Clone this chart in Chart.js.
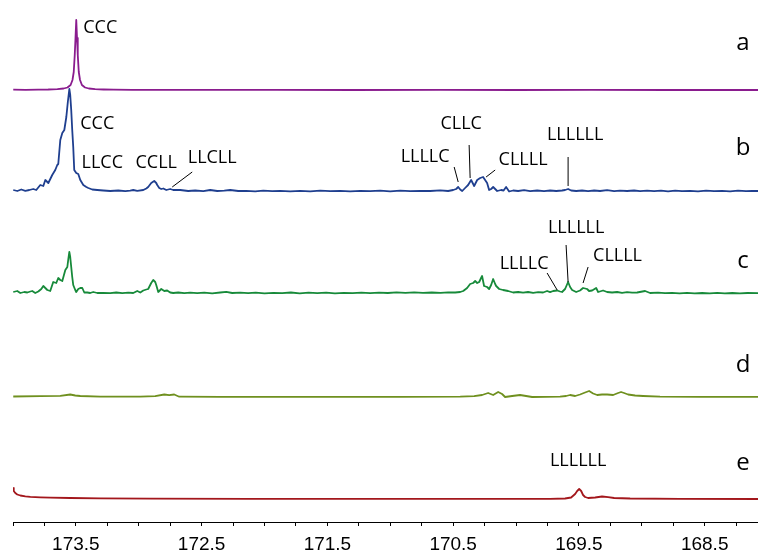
<!DOCTYPE html>
<html>
<head>
<meta charset="utf-8">
<script src="https://cdn.jsdelivr.net/npm/chart.js@4.4.1/dist/chart.umd.min.js"></script>
<style>
  html, body { margin: 0; padding: 0; background: #fff; }
  #wrap { width: 758px; height: 555px; }
</style>
</head>
<body>
<div id="wrap"><canvas id="nmr"></canvas></div>
<script>
// 13C carbonyl region, ppm (x) and intensity (y) per trace
var traceNames = ['a', 'b', 'c', 'd', 'e'];

var ppmA = [173.998, 173.9, 173.8, 173.72, 173.647, 173.597, 173.567, 173.542, 173.527, 173.517, 173.509, 173.503, 173.497, 173.491, 173.485, 173.477, 173.467, 173.452, 173.427, 173.397, 173.347, 173.28, 173.2, 173.05, 172.8, 172.4, 171.9, 171.3, 170.6, 170.0, 169.4, 168.8, 168.076];
var intA = [0.3, 0.2, 0.4, 0.5, 0.8, 1.5, 2.5, 5, 10, 18, 35, 52, 70, 52, 35, 18, 10, 5, 2.5, 1.5, 0.8, 0.5, 0.3, 0.2, 0.2, 0.1, 0.1, 0, 0.1, 0, 0.1, 0, 0];

var ppmB = [173.998, 173.966, 173.934, 173.902, 173.870, 173.839, 173.815, 173.783, 173.759, 173.743, 173.719, 173.688, 173.664, 173.648, 173.640, 173.624, 173.608, 173.592, 173.576, 173.564, 173.552, 173.545, 173.537, 173.529, 173.521, 173.513, 173.497, 173.481, 173.465, 173.441, 173.417, 173.401, 173.370, 173.330, 173.282, 173.227, 173.163, 173.107, 173.068, 173.044, 173.012, 172.964, 172.940, 172.925, 172.901, 172.877, 172.861, 172.853, 172.837, 172.821, 172.805, 172.781, 172.750, 172.726, 172.670, 172.607, 172.551, 172.487, 172.432, 172.376, 172.320, 172.273, 172.209, 172.146, 172.074, 172.010, 171.939, 171.875, 171.796, 171.716, 171.637, 171.557, 171.478, 171.398, 171.319, 171.239, 171.160, 171.080, 171.001, 170.921, 170.842, 170.762, 170.683, 170.603, 170.540, 170.500, 170.476, 170.460, 170.444, 170.428, 170.405, 170.381, 170.357, 170.333, 170.309, 170.285, 170.262, 170.246, 170.230, 170.214, 170.198, 170.182, 170.166, 170.150, 170.119, 170.099, 170.079, 170.055, 170.023, 169.983, 169.936, 169.888, 169.832, 169.777, 169.729, 169.681, 169.634, 169.610, 169.586, 169.562, 169.522, 169.475, 169.427, 169.379, 169.332, 169.276, 169.220, 169.173, 169.117, 169.061, 169.014, 168.958, 168.902, 168.847, 168.791, 168.735, 168.680, 168.616, 168.553, 168.489, 168.425, 168.362, 168.298, 168.235, 168.171, 168.123, 168.076];
var intB = [2, 1, 2.5, 1.2, 2, 3, 2, 7, 6, 12, 9, 17, 22, 27, 28, 52, 59, 62, 75, 90, 103, 97, 82, 62, 45, 22, 19, 18, 12, 7, 5, 4, 2.5, 2, 1.5, 1, 1.5, 0.8, 1.3, 2, 1.2, 2, 3.5, 5, 9, 11, 9, 7, 4, 3, 3.5, 2, 3, 2, 2, 1, 1.5, 0.8, 2, 1, 1.3, 2, 1, 1.2, 0.7, 1.3, 0.8, 1.2, 0.6, 1.2, 0.7, 1.3, 0.8, 1.2, 0.7, 1.2, 0.8, 1.3, 0.7, 1.4, 0.8, 1.2, 1, 1.6, 1, 2, 3, 5, 2.5, 1, 4, 7, 12, 6, 12, 14, 15, 12, 9, 2, 3, 5, 3, 1, 2, 1.5, 5, 0.5, 1.5, 1, 1.8, 0.8, 1.5, 0.8, 1.5, 1, 1.5, 2, 3, 1.5, 1, 1.5, 0.8, 1.5, 1, 1.8, 0.8, 1.4, 1, 1.5, 0.9, 1.4, 0.8, 1.3, 0.7, 1.4, 0.8, 1.2, 0.7, 1.3, 0.8, 1.2, 0.7, 1.3, 0.8, 1.2, 1];

var ppmC = [173.998, 173.966, 173.942, 173.910, 173.886, 173.862, 173.847, 173.823, 173.799, 173.775, 173.759, 173.743, 173.727, 173.704, 173.680, 173.656, 173.640, 173.624, 173.608, 173.584, 173.568, 173.560, 173.552, 173.545, 173.537, 173.529, 173.521, 173.505, 173.497, 173.481, 173.465, 173.449, 173.433, 173.409, 173.386, 173.362, 173.330, 173.282, 173.227, 173.179, 173.131, 173.084, 173.044, 173.012, 172.988, 172.964, 172.940, 172.925, 172.901, 172.885, 172.869, 172.861, 172.845, 172.821, 172.797, 172.774, 172.750, 172.726, 172.686, 172.638, 172.591, 172.535, 172.479, 172.416, 172.352, 172.304, 172.257, 172.193, 172.13, 172.07, 172.0, 171.93, 171.86, 171.79, 171.72, 171.65, 171.58, 171.51, 171.44, 171.37, 171.30, 171.23, 171.16, 171.09, 171.02, 170.95, 170.88, 170.81, 170.74, 170.67, 170.60, 170.54, 170.484, 170.444, 170.420, 170.389, 170.365, 170.341, 170.325, 170.309, 170.293, 170.278, 170.270, 170.254, 170.230, 170.214, 170.198, 170.182, 170.166, 170.158, 170.134, 170.103, 170.063, 170.023, 169.983, 169.944, 169.904, 169.864, 169.824, 169.785, 169.753, 169.729, 169.705, 169.673, 169.650, 169.634, 169.610, 169.586, 169.570, 169.554, 169.522, 169.491, 169.467, 169.435, 169.419, 169.395, 169.363, 169.347, 169.308, 169.276, 169.236, 169.196, 169.157, 169.117, 169.077, 169.037, 168.974, 168.934, 168.871, 168.815, 168.76, 168.70, 168.64, 168.58, 168.52, 168.46, 168.40, 168.34, 168.28, 168.22, 168.16, 168.076];
var intC = [2, 3, 1, 2, 1.5, 2.5, 3, 1, 2.5, 5, 8, 6, 4, 3, 12, 11, 16, 14, 13, 24, 27, 35, 42, 37, 27, 17, 9, 4, 2, 5, 6, 6, 1.5, 1.5, 1, 2, 1, 1.2, 0.8, 1.5, 0.8, 1.3, 1, 3, 1.5, 3.5, 4.5, 5, 11, 14, 12, 9, 2, 5, 3, 3.5, 1.5, 1, 1.5, 0.8, 1.3, 0.8, 1.4, 0.7, 1.5, 2.2, 1, 1.3, 0.8, 1.4, 0.7, 1.2, 0.8, 1.5, 0.7, 1.3, 0.9, 1.4, 0.7, 1.2, 0.8, 1.4, 0.9, 1.3, 1, 1.6, 1.1, 1.7, 1.2, 1.5, 1.2, 1.6, 1.5, 2, 3, 6, 10, 11, 13, 11, 12, 16, 18, 8, 7, 5, 9, 15, 10, 8, 5, 4, 3, 1.5, 2, 1.3, 2, 1.2, 1.8, 1.5, 3, 1.8, 3, 3.5, 2.5, 2, 5, 12, 7, 4, 2, 3.5, 6, 5, 3, 3.5, 6, 2, 3.5, 2, 1.5, 2, 1.2, 1.8, 1.3, 1.5, 3, 1, 1.3, 0.8, 1.2, 0.7, 1.1, 0.6, 1, 0.7, 1.1, 0.6, 1, 0.7, 1, 0.8];

var ppmD = [173.998, 173.783, 173.624, 173.545, 173.505, 173.465, 173.306, 172.988, 172.869, 172.797, 172.758, 172.718, 172.678, 172.352, 171.716, 170.921, 170.444, 170.333, 170.270, 170.222, 170.182, 170.142, 170.111, 170.087, 170.031, 169.968, 169.920, 169.872, 169.650, 169.602, 169.570, 169.530, 169.491, 169.451, 169.419, 169.387, 169.355, 169.316, 169.276, 169.228, 169.188, 169.165, 169.141, 169.109, 169.053, 168.990, 168.855, 168.537, 168.076];
var intD = [0.5, 0.8, 1.2, 2.5, 1.5, 1, 0.3, 0.3, 0.8, 2.5, 1.8, 2.5, 0.3, 0.2, 0.1, 0.1, 0.3, 0.8, 2, 4, 2, 5, 3, 0, 1, 2, 1, 0, 0.3, 1, 2, 1, 2.5, 4.5, 6, 3.5, 2, 2.5, 2.5, 2, 4, 5, 4, 2.5, 1.5, 1, 0.3, 0.2, 0.2];

var ppmE = [174.0, 173.994, 173.982, 173.966, 173.942, 173.902, 173.862, 173.783, 173.704, 173.545, 173.306, 172.909, 172.114, 170.921, 169.729, 169.610, 169.562, 169.530, 169.514, 169.498, 169.482, 169.467, 169.451, 169.427, 169.371, 169.316, 169.268, 169.220, 169.093, 168.696, 168.076];
var intE = [11, 8, 6, 4.5, 3.5, 2.7, 2.2, 1.7, 1.4, 1, 0.7, 0.4, 0.2, 0.1, 0.2, 0.5, 1.5, 5, 8, 10, 8, 4, 2, 1, 1.5, 2.5, 1.8, 1, 0.5, 0.2, 0];

var xTickLabels = ['173.5', '172.5', '171.5', '170.5', '169.5', '168.5'];

// peak assignments: text, trace index, ppm, height above that trace
var peakText  = ['CCC', 'CCC', 'LLCC', 'CCLL', 'LLCLL', 'CLLC', 'LLLLC', 'CLLLL', 'LLLLLL', 'LLLLLL', 'LLLLC', 'CLLLL', 'LLLLLL'];
var peakTrace = [0, 1, 1, 1, 1, 1, 1, 1, 1, 2, 2, 2, 4];
var peakPpm   = [173.306, 173.330, 173.290, 172.861, 172.416, 170.436, 170.723, 169.944, 169.530, 169.522, 169.936, 169.193, 169.506];
var peakH     = [62, 68, 29, 29, 34, 68, 35, 32, 57, 66, 30, 38, 38];
// leader lines: trace, ppm1, h1, ppm2, h2
var leaders = [
  [1, 172.575, 20, 172.734, 5],
  [1, 170.373, 47, 170.365, 14],
  [1, 170.492, 25, 170.460, 10],
  [1, 170.166, 22, 170.238, 15],
  [1, 169.586, 35, 169.586, 6],
  [2, 169.602, 49, 169.586, 12],
  [2, 169.753, 21, 169.673, 4],
  [2, 169.427, 27, 169.467, 11]
];

// stacking and styles
var offsets = [432, 330, 228, 125, 23];
var letterH = [40, 37, 26, 25, 29];
var colors = ['#8A1C8E', '#1F3F8F', '#178A3A', '#6F901F', '#A3171C'];

var ppmAll = [ppmA, ppmB, ppmC, ppmD, ppmE];
var intAll = [intA, intB, intC, intD, intE];

var datasets = traceNames.map(function(name, i) {
  return {
    label: name,
    data: ppmAll[i].map(function(p, j) { return {x: p, y: intAll[i][j] + offsets[i]}; }),
    borderColor: colors[i],
    borderWidth: 1.8,
    pointRadius: 0,
    tension: 0,
    borderJoinStyle: 'round',
    fill: false
  };
});

var labelPlugin = {
  id: 'peakLabels',
  afterDatasetsDraw: function(chart) {
    var ctx = chart.ctx, xs = chart.scales.x, ys = chart.scales.y;
    ctx.save();
    ctx.fillStyle = '#000';
    ctx.strokeStyle = '#000';
    ctx.lineWidth = 1;
    ctx.font = '18px "Open Sans"';
    ctx.textAlign = 'center';
    ctx.textBaseline = 'middle';
    peakText.forEach(function(t, i) {
      ctx.fillText(t, xs.getPixelForValue(peakPpm[i]), ys.getPixelForValue(offsets[peakTrace[i]] + peakH[i]));
    });
    leaders.forEach(function(l) {
      ctx.beginPath();
      ctx.moveTo(xs.getPixelForValue(l[1]), ys.getPixelForValue(offsets[l[0]] + l[2]));
      ctx.lineTo(xs.getPixelForValue(l[3]), ys.getPixelForValue(offsets[l[0]] + l[4]));
      ctx.stroke();
    });
    ctx.font = '24px "Open Sans"';
    ctx.textBaseline = 'alphabetic';
    traceNames.forEach(function(n, i) {
      ctx.fillText(n, xs.getPixelForValue(168.195), ys.getPixelForValue(offsets[i] + letterH[i]));
    });
    ctx.restore();
  }
};

new Chart(document.getElementById('nmr'), {
  type: 'line',
  data: { datasets: datasets },
  options: {
    responsive: true,
    maintainAspectRatio: false,
    animation: false,
    layout: { padding: { left: 13, right: 0, top: 0, bottom: 0 } },
    plugins: { legend: { display: false }, tooltip: { enabled: false } },
    scales: {
      x: {
        type: 'linear',
        reverse: true,
        min: 168.076,
        max: 174.0,
        afterFit: function(s) { s.height = 33; },
        border: { display: true, color: '#000', width: 1 },
        grid: { display: true, drawOnChartArea: false, drawTicks: true, tickLength: 4, color: '#000' },
        ticks: {
          stepSize: 0.25,
          includeBounds: false,
          autoSkip: false,
          maxRotation: 0,
          padding: 7,
          color: '#000',
          font: { family: '"Liberation Sans", Arial', size: 19 },
          callback: function(v) {
            var s = v.toFixed(1);
            return xTickLabels.indexOf(s) >= 0 ? s : '';
          }
        }
      },
      y: { display: false, min: 0, max: 522 }
    }
  },
  plugins: [labelPlugin]
});
</script>
</body>
</html>
